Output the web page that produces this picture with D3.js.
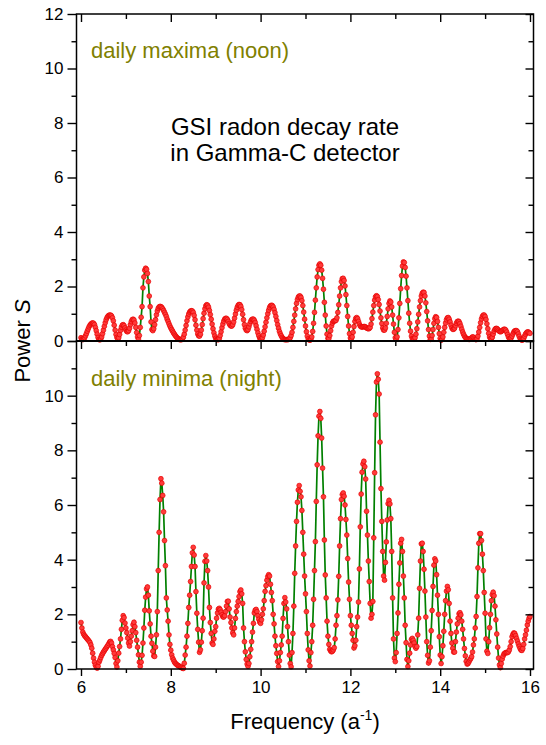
<!DOCTYPE html>
<html>
<head>
<meta charset="utf-8">
<script src="https://cdn.jsdelivr.net/npm/d3@7"></script>
<style>
  body { margin: 0; background: #fff; }
  svg text { font-family: "Liberation Sans", Arial, sans-serif; }
</style>
</head>
<body>
<div id="chart"></div>
<script>
// Frequency grid of the periodogram (a^-1)
var freqStart = 6, freqStep = 0.02;

// Power S, daily maxima (noon), one value per 0.02 a^-1 from 6 to 16
var noonPower = [
  0.12,0.07,0.05,0.07,0.12,0.19,0.27,0.36,0.44,0.52,
  0.58,0.62,0.65,0.66,0.65,0.60,0.50,0.38,0.25,0.13,
  0.06,0.04,0.07,0.15,0.27,0.40,0.54,0.67,0.78,0.86,
  0.91,0.94,0.95,0.95,0.92,0.85,0.74,0.58,0.40,0.24,
  0.13,0.09,0.12,0.24,0.39,0.51,0.58,0.60,0.56,0.48,
  0.40,0.35,0.34,0.38,0.47,0.60,0.71,0.78,0.80,0.77,
  0.66,0.50,0.31,0.15,0.07,0.20,0.50,0.87,1.26,1.95,
  2.35,2.60,2.67,2.63,2.48,2.18,1.65,1.26,0.70,0.42,
  0.38,0.45,0.60,0.78,0.96,1.10,1.20,1.25,1.27,1.26,
  1.23,1.18,1.12,1.05,0.98,0.90,0.80,0.72,0.63,0.55,
  0.48,0.42,0.36,0.30,0.25,0.20,0.16,0.12,0.09,0.07,
  0.05,0.05,0.05,0.08,0.14,0.25,0.40,0.57,0.74,0.88,
  0.99,1.06,1.10,1.11,1.10,1.05,0.94,0.78,0.58,0.40,
  0.26,0.19,0.18,0.25,0.40,0.60,0.82,1.02,1.18,1.29,
  1.33,1.31,1.24,1.12,0.97,0.80,0.62,0.45,0.30,0.18,
  0.10,0.06,0.05,0.05,0.10,0.20,0.34,0.49,0.62,0.73,
  0.80,0.83,0.83,0.79,0.72,0.64,0.58,0.55,0.55,0.60,
  0.70,0.84,0.99,1.13,1.24,1.31,1.34,1.33,1.27,1.15,
  0.98,0.78,0.60,0.47,0.40,0.38,0.42,0.52,0.63,0.72,
  0.78,0.80,0.80,0.76,0.68,0.56,0.43,0.30,0.19,0.11,
  0.07,0.07,0.12,0.22,0.36,0.52,0.69,0.85,1.00,1.13,
  1.23,1.29,1.31,1.30,1.25,1.16,1.04,0.90,0.75,0.60,
  0.47,0.35,0.26,0.19,0.13,0.09,0.06,0.05,0.05,0.05,
  0.05,0.06,0.08,0.12,0.20,0.32,0.50,0.72,0.95,1.18,
  1.38,1.52,1.61,1.65,1.65,1.60,1.48,1.30,1.06,0.80,
  0.55,0.34,0.18,0.08,0.04,0.03,0.05,0.15,0.35,0.65,
  1.05,1.50,1.95,2.35,2.62,2.78,2.83,2.78,2.60,2.30,
  1.90,1.42,0.95,0.55,0.25,0.10,0.09,0.20,0.38,0.55,
  0.66,0.72,0.74,0.74,0.76,0.85,1.05,1.33,1.65,1.95,
  2.18,2.29,2.30,2.22,2.02,1.70,1.30,0.90,0.55,0.27,
  0.11,0.08,0.15,0.32,0.53,0.72,0.83,0.86,0.82,0.72,
  0.62,0.55,0.52,0.51,0.52,0.53,0.53,0.51,0.48,0.46,
  0.45,0.46,0.50,0.62,0.82,1.06,1.30,1.50,1.62,1.66,
  1.63,1.52,1.34,1.10,0.85,0.64,0.48,0.40,0.40,0.48,
  0.65,0.90,1.18,1.38,1.47,1.43,1.25,0.95,0.62,0.32,
  0.12,0.06,0.15,0.42,0.85,1.38,1.92,2.40,2.75,2.90,
  2.88,2.70,2.38,1.95,1.48,1.02,0.65,0.36,0.18,0.09,
  0.07,0.07,0.12,0.25,0.45,0.70,0.98,1.25,1.48,1.65,
  1.75,1.79,1.78,1.65,1.40,1.08,0.74,0.42,0.18,0.06,
  0.07,0.20,0.42,0.65,0.82,0.89,0.86,0.72,0.50,0.27,
  0.10,0.03,0.05,0.15,0.32,0.50,0.66,0.78,0.85,0.86,
  0.80,0.70,0.58,0.48,0.43,0.43,0.47,0.56,0.65,0.71,
  0.73,0.71,0.64,0.54,0.43,0.33,0.25,0.18,0.13,0.10,
  0.08,0.07,0.06,0.06,0.08,0.12,0.15,0.14,0.10,0.06,
  0.05,0.08,0.18,0.33,0.50,0.67,0.81,0.90,0.95,0.95,
  0.90,0.79,0.63,0.45,0.28,0.15,0.09,0.08,0.14,0.25,
  0.36,0.43,0.46,0.46,0.43,0.39,0.35,0.34,0.35,0.38,
  0.41,0.43,0.43,0.40,0.33,0.24,0.15,0.09,0.08,0.11,
  0.18,0.26,0.33,0.37,0.38,0.38,0.34,0.26,0.17,0.09,
  0.05,0.03,0.04,0.10,0.18,0.25,0.30,0.33,0.33,0.31,
  0.28
];

// Power S, daily minima (night)
var nightPower = [
  1.70,1.50,1.35,1.27,1.22,1.18,1.14,1.10,1.06,1.02,
  0.97,0.88,0.76,0.58,0.40,0.25,0.14,0.07,0.03,0.10,
  0.25,0.33,0.42,0.50,0.56,0.62,0.67,0.72,0.77,0.82,
  0.87,0.93,0.99,1.01,0.95,0.82,0.70,0.57,0.42,0.20,
  0.07,0.30,0.58,0.82,1.10,1.45,1.78,1.95,1.88,1.68,
  1.50,1.33,1.13,0.95,0.84,1.00,1.20,1.40,1.62,1.71,
  1.55,1.33,1.05,0.80,0.52,0.25,0.10,0.25,0.50,0.95,
  1.50,2.15,2.63,2.93,3.00,2.70,2.13,1.65,1.20,0.94,
  0.65,0.48,0.46,0.80,1.25,2.10,3.60,5.00,6.20,6.96,
  6.80,6.35,5.75,4.70,3.78,2.60,2.16,1.75,1.25,0.90,
  0.69,0.52,0.40,0.33,0.26,0.21,0.18,0.15,0.13,0.11,
  0.09,0.07,0.05,0.03,0.02,0.21,0.51,0.80,1.20,1.67,
  2.25,2.70,3.20,3.75,4.25,4.45,4.17,3.75,2.83,2.04,
  1.45,0.98,0.61,0.70,0.98,1.40,1.86,3.15,3.94,4.15,
  3.95,3.60,3.00,2.25,1.70,1.30,0.95,0.90,1.10,1.38,
  1.55,1.86,2.05,2.19,2.22,2.17,2.08,1.98,1.91,1.90,
  1.95,2.10,2.30,2.47,2.48,2.20,1.90,1.70,1.50,1.32,
  1.25,1.50,1.85,2.10,2.30,2.47,2.65,2.83,2.89,2.75,
  2.40,1.50,1.00,0.63,0.35,0.18,0.10,0.20,0.45,0.72,
  1.00,1.35,1.67,2.05,2.15,2.18,2.10,1.95,1.82,1.72,
  1.67,1.80,2.00,2.20,2.50,2.84,3.05,3.25,3.38,3.45,
  3.40,3.10,2.80,2.50,2.00,1.65,1.20,0.85,0.57,0.27,
  0.09,0.30,0.60,0.88,1.20,1.85,2.40,2.61,2.45,2.20,
  1.55,1.00,0.51,0.20,0.08,0.60,1.30,2.30,3.50,4.50,
  5.40,6.10,6.55,6.71,6.50,6.30,5.80,5.00,4.20,3.40,
  2.75,2.10,1.30,0.70,0.30,0.11,0.60,1.00,1.60,2.55,
  3.60,4.66,6.13,7.47,8.53,9.25,9.42,9.17,8.45,7.35,
  6.30,4.72,3.44,2.60,1.75,1.20,0.90,0.72,0.66,0.63,
  0.65,0.70,0.78,1.10,1.60,1.95,2.53,3.39,4.50,5.50,
  6.20,6.38,6.44,6.32,6.00,5.47,4.90,4.04,3.18,2.55,
  1.95,1.60,1.30,1.05,0.77,0.85,1.05,1.55,1.90,2.45,
  3.66,5.20,6.40,7.20,7.50,7.60,7.40,6.95,5.77,4.90,
  3.95,3.20,2.40,1.86,2.00,2.47,4.80,7.18,9.30,10.50,
  10.80,10.60,10.06,8.30,6.60,5.40,4.30,3.40,3.25,3.90,
  4.65,5.45,6.05,6.17,6.04,5.50,4.30,2.60,1.10,0.40,
  0.27,0.60,1.30,2.05,3.10,3.88,4.60,4.74,4.30,3.40,
  2.60,1.60,0.96,0.35,0.09,0.30,0.58,0.88,1.08,1.12,
  1.05,0.95,0.82,0.76,0.82,1.25,1.86,2.95,3.95,4.58,
  4.60,4.30,3.65,2.85,1.90,1.00,0.50,0.22,0.30,0.80,
  1.40,2.14,3.02,3.80,4.03,3.95,3.45,2.70,2.00,1.18,
  0.51,0.20,0.45,0.85,1.38,2.00,2.50,2.85,3.02,2.90,
  2.40,1.75,1.30,0.95,0.76,0.62,0.62,1.00,1.35,1.65,
  1.86,2.02,2.06,1.98,1.75,1.45,1.10,0.75,0.48,0.28,
  0.18,0.20,0.26,0.33,0.38,0.45,0.62,0.88,1.10,1.50,
  1.92,2.65,3.70,4.60,4.95,4.95,4.70,4.20,3.60,2.80,
  2.04,1.10,0.65,0.57,1.00,1.51,2.00,2.50,2.72,2.81,
  2.68,2.30,1.80,1.28,0.80,0.40,0.15,0.05,0.20,0.36,
  0.47,0.55,0.58,0.60,0.60,0.60,0.63,0.70,0.82,1.00,
  1.18,1.27,1.32,1.30,1.22,1.12,1.02,0.92,0.83,0.75,
  0.69,0.68,0.75,0.90,1.10,1.25,1.42,1.61,1.75,1.86,
  1.92
];

// Tick values
var xMajor = [6, 8, 10, 12, 14, 16];
var xMinor = [7, 9, 11, 13, 15];
var yMajor = [0, 2, 4, 6, 8, 10, 12];
var yMinor = [1, 3, 5, 7, 9, 11];
var yLabelsTop = [0, 2, 4, 6, 8, 10, 12];
var yLabelsBottom = [0, 2, 4, 6, 8, 10];

var width = 546, height = 745;
var left = 76.5, right = 533.5;

var svg = d3.select("#chart").append("svg")
    .attr("width", width)
    .attr("height", height);

var x = d3.scaleLinear().domain([6, 16]).range([81, 530]);
var yTop = d3.scaleLinear().domain([0, 12]).range([341, 14]);
var yBottom = d3.scaleLinear().domain([0, 12]).range([669, 341]);

function toPoints(values) {
    return values.map(function (v, i) {
        return { f: freqStart + i * freqStep, s: v };
    });
}

// one panel: line + markers
function drawSeries(values, y) {
    var pts = toPoints(values);
    var line = d3.line()
        .x(function (d) { return x(d.f); })
        .y(function (d) { return y(d.s); });

    svg.append("path")
        .datum(pts)
        .attr("d", line)
        .attr("fill", "none")
        .attr("stroke", "#008000")
        .attr("stroke-width", 1.7);

    svg.append("g").selectAll("circle")
        .data(pts)
        .enter()
        .append("circle")
        .attr("cx", function (d) { return x(d.f); })
        .attr("cy", function (d) { return y(d.s); })
        .attr("r", 2.4)
        .attr("fill", "#ff3b3b")
        .attr("stroke", "#e60000")
        .attr("stroke-width", 0.7);
}

// axis helper: ticks only, no domain line
function addAxis(axis, transform) {
    var g = svg.append("g")
        .attr("transform", transform)
        .call(axis);
    g.select(".domain").remove();
    g.selectAll(".tick line").attr("stroke", "#000").attr("stroke-width", 1.4);
    g.selectAll(".tick text")
        .attr("font-size", "17px")
        .attr("fill", "#000")
        .style("font-family", "'Liberation Sans', Arial, sans-serif");
    return g;
}

function panelAxes(y, labels, topY) {
    // left: outward
    addAxis(d3.axisLeft(y).tickValues(yMajor).tickSize(9).tickPadding(4)
        .tickFormat(function (d) { return labels.indexOf(d) >= 0 ? d : ""; }),
        "translate(" + left + ",0)");
    addAxis(d3.axisLeft(y).tickValues(yMinor).tickSize(5).tickFormat(""),
        "translate(" + left + ",0)");
    // right: inward
    addAxis(d3.axisLeft(y).tickValues(yMajor).tickSize(8).tickFormat(""),
        "translate(" + right + ",0)");
    addAxis(d3.axisLeft(y).tickValues(yMinor).tickSize(5).tickFormat(""),
        "translate(" + right + ",0)");
    // top edge: ticks pointing down
    addAxis(d3.axisBottom(x).tickValues(xMajor).tickSize(8).tickFormat(""),
        "translate(0," + topY + ")");
    addAxis(d3.axisBottom(x).tickValues(xMinor).tickSize(5).tickFormat(""),
        "translate(0," + topY + ")");
}

drawSeries(noonPower, yTop);
drawSeries(nightPower, yBottom);

panelAxes(yTop, yLabelsTop, 14);
panelAxes(yBottom, yLabelsBottom, 341);

// bottom axis with labels, outward
addAxis(d3.axisBottom(x).tickValues(xMajor).tickSize(7).tickPadding(5), "translate(0,669)");
addAxis(d3.axisBottom(x).tickValues(xMinor).tickSize(4).tickFormat(""), "translate(0,669)");

// frames
[[14, 341], [341, 669]].forEach(function (p) {
    svg.append("rect")
        .attr("x", left)
        .attr("y", p[0])
        .attr("width", right - left)
        .attr("height", p[1] - p[0])
        .attr("fill", "none")
        .attr("stroke", "#000")
        .attr("stroke-width", 1.5);
});
svg.append("line")
    .attr("x1", left).attr("x2", right)
    .attr("y1", 341).attr("y2", 341)
    .attr("stroke", "#000").attr("stroke-width", 2);

// annotations
var olive = "#808000";
svg.append("text").attr("x", 91).attr("y", 58)
    .attr("font-size", "22px").attr("fill", olive)
    .text("daily maxima (noon)");
svg.append("text").attr("x", 91).attr("y", 386)
    .attr("font-size", "22px").attr("fill", olive)
    .text("daily minima (night)");
svg.append("text").attr("x", 285).attr("y", 135)
    .attr("font-size", "24px").attr("text-anchor", "middle")
    .text("GSI radon decay rate");
svg.append("text").attr("x", 285).attr("y", 161)
    .attr("font-size", "24px").attr("text-anchor", "middle")
    .text("in Gamma-C detector");

// axis titles
var yTitle = svg.append("text")
    .attr("transform", "translate(30,341) rotate(-90)")
    .attr("text-anchor", "middle")
    .attr("font-size", "22px");
yTitle.append("tspan").text("Power ");
yTitle.append("tspan").attr("font-style", "italic").text("S");

var xTitle = svg.append("text")
    .attr("x", 305).attr("y", 729)
    .attr("text-anchor", "middle")
    .attr("font-size", "22px");
xTitle.append("tspan").text("Frequency (a");
xTitle.append("tspan").attr("font-size", "14px").attr("dy", -9).text("-1");
xTitle.append("tspan").attr("dy", 9).text(")");
</script>
</body>
</html>
